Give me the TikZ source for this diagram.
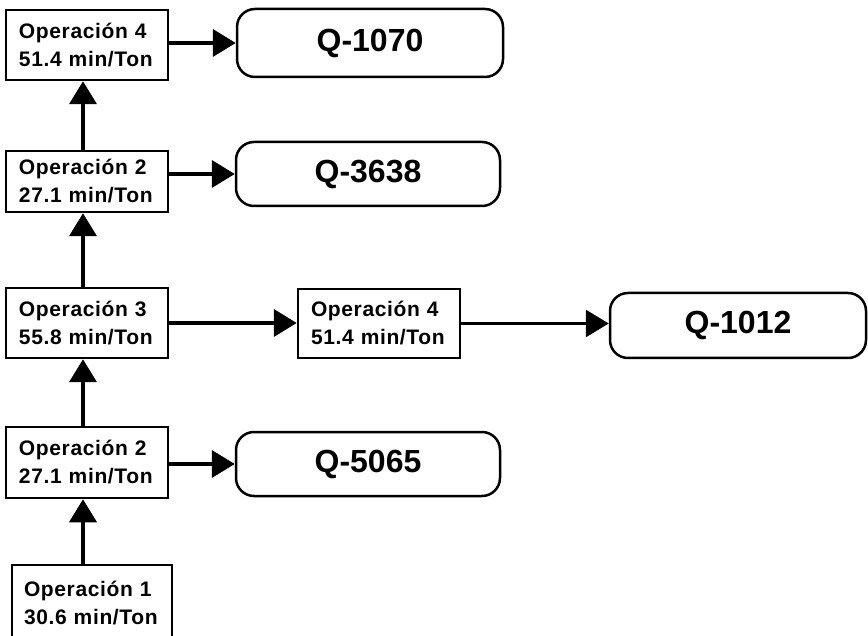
\documentclass[tikz,border=0pt]{standalone}
\usepackage{fontspec}
\setmainfont{Liberation Sans}
\newfontfamily\opfont[LetterSpace=3]{Liberation Sans}
\usetikzlibrary{arrows.meta}
\tikzset{
  opbox/.style={draw, line width=2.5pt, minimum width=162pt, minimum height=70pt,
    inner sep=0pt, text width=136pt, align=left,
    font=\opfont\bfseries\fontsize{21}{28}\selectfont},
  qbox/.style={draw, line width=2.5pt, rounded corners=18pt, inner sep=0pt,
    font=\bfseries\fontsize{32}{36}\selectfont},
  arr/.style={line width=4pt, -{Triangle[length=23pt,width=27pt]}},
  thinarr/.style={line width=3pt, -{Triangle[length=23pt,width=27pt]}}
}
\begin{document}
\begin{tikzpicture}[x=1pt,y=-1pt]
\useasboundingbox (0,0) rectangle (868,636);
\clip (0,0) rectangle (868,636);
% operation boxes
\node[opbox] (op4a) at (87,45) {Operación 4\\51.4 min/Ton};
\node[opbox, minimum height=61pt] (op2a) at (87,181.5) {Operación 2\\27.1 min/Ton};
\node[opbox] (op3) at (87,323) {Operación 3\\55.8 min/Ton};
\node[opbox, minimum height=69pt] (op4b) at (379,323.5) {Operación 4\\51.4 min/Ton};
\node[opbox, minimum height=71pt] (op2b) at (87,462.5) {Operación 2\\27.1 min/Ton};
\node[opbox, minimum width=160pt, minimum height=76pt] (op1) at (92,603) {Operación 1\\30.6 min/Ton};
% product boxes
\node[qbox, minimum width=266pt, minimum height=68pt] (q1070) at (370,43) {Q-1070};
\node[qbox, minimum width=264pt, minimum height=64pt] (q3638) at (368,174) {Q-3638};
\node[qbox, minimum width=256pt, minimum height=65pt] (q1012) at (738,325.5) {Q-1012};
\node[qbox, minimum width=264pt, minimum height=64pt] (q5065) at (368,464) {Q-5065};
% vertical arrows
\draw[arr] ([xshift=-4pt]op2b.south |- op1.north) -- ([xshift=-4pt]op2b.south);
\draw[arr] ([xshift=-4pt]op3.south |- op2b.north) -- ([xshift=-4pt]op3.south);
\draw[arr] ([xshift=-4pt]op2a.south |- op3.north) -- ([xshift=-4pt]op2a.south);
\draw[arr] ([xshift=-4pt]op4a.south |- op2a.north) -- ([xshift=-4pt]op4a.south);
% horizontal arrows
\draw[arr] (op4a.east |- q1070.west) -- (q1070.west);
\draw[arr] (op2a.east |- q3638.west) -- (q3638.west);
\draw[arr] (op2b.east |- q5065.west) -- (q5065.west);
\draw[arr] (op3.east) -- (op3.east -| op4b.west);
\draw[thinarr] (op4b.east) -- (op4b.east -| q1012.west);
\end{tikzpicture}
\end{document}
